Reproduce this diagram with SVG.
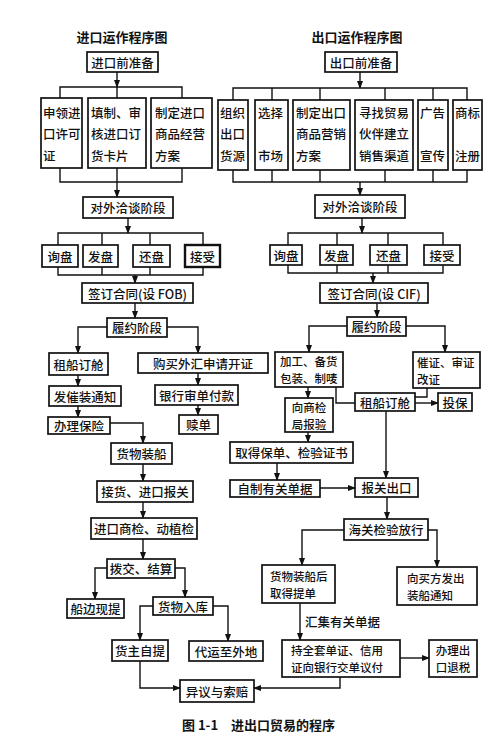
<svg xmlns="http://www.w3.org/2000/svg" width="490" height="743" viewBox="0 0 490 743">
<defs>
<style>
.b{fill:#fff;stroke:#111;stroke-width:1.7}
.t{font-family:"Noto Sans CJK SC","Noto Sans CJK TC",sans-serif;font-size:12.5px;fill:#111;dominant-baseline:central;font-weight:500}
.s{font-size:11.5px}
.c{text-anchor:middle}
.h{font-weight:bold;font-size:13px}
.l{fill:none;stroke:#111;stroke-width:1.4}
.a{marker-end:url(#ah)}
</style>
<marker id="ah" markerUnits="userSpaceOnUse" markerWidth="8" markerHeight="6" refX="7" refY="3" orient="auto"><path d="M0,0 L8,3 L0,6 z" fill="#111"/></marker>
</defs>
<rect width="490" height="743" fill="#fff"/>

<text class="t c h" x="122" y="36">进口运作程序图</text>
<text class="t c h" x="357" y="36">出口运作程序图</text>

<g id="connectors">
<!-- import top -->
<path class="l a" d="M117,72 V87"/>
<path class="l" d="M60,98 V87 H182 V98 M117,87 V98"/>
<path class="l" d="M60,168 V182 H182 V168 M117,168 V182"/>
<path class="l a" d="M117,182 V197"/>
<path class="l a" d="M128,218 V233"/>
<path class="l" d="M58,245 V233 H203 V245 M102,233 V245 M150,233 V245"/>
<path class="l" d="M58,267 V275 H203 V267 M102,267 V275 M150,267 V275"/>
<path class="l a" d="M135,275 V283"/>
<path class="l a" d="M135,303 V318"/>
<path class="l a" d="M107,327 H78 V353"/>
<path class="l a" d="M167,327 H198 V353"/>
<path class="l a" d="M78,375 V386"/>
<path class="l a" d="M78,406 V417"/>
<path class="l a" d="M198,373 V385"/>
<path class="l a" d="M198,405 V415"/>
<path class="l a" d="M110,423 H143 V443"/>
<path class="l a" d="M143,464 V481"/>
<path class="l a" d="M143,502 V518"/>
<path class="l a" d="M143,539 V559"/>
<path class="l a" d="M107,568 H95 V599"/>
<path class="l a" d="M175,568 H185 V597"/>
<path class="l a" d="M153,606 H140 V640"/>
<path class="l a" d="M213,606 H228 V641"/>
<path class="l a" d="M140,661 V688 H180"/>
<!-- export top -->
<path class="l a" d="M360,72 V88"/>
<path class="l" d="M233,100 V88 H467 V100 M272,88 V100 M320,88 V100 M385,88 V100 M433,88 V100"/>
<path class="l" d="M233,170 V182 H467 V170 M272,182 V170 M320,182 V170 M385,182 V170 M433,182 V170"/>
<path class="l a" d="M360,182 V195"/>
<path class="l a" d="M362,218 V233"/>
<path class="l" d="M288,245 V233 H443 V245 M337,233 V245 M388,233 V245"/>
<path class="l" d="M288,265 V273 H443 V265 M337,273 V265 M388,273 V265"/>
<path class="l a" d="M373,273 V283"/>
<path class="l a" d="M377,303 V317"/>
<path class="l a" d="M347,326 H309 V352"/>
<path class="l a" d="M406,326 H445 V352"/>
<path class="l a" d="M308,387 V398"/>
<path class="l" d="M336,387 V403 H355"/>
<path class="l" d="M427,388 V397 H415"/>
<path class="l a" d="M415,403 H438"/>
<path class="l a" d="M386,411 V478"/>
<path class="l a" d="M308,432 V442"/>
<path class="l a" d="M277,463 V480"/>
<path class="l a" d="M320,488 H355"/>
<path class="l a" d="M387,497 V519"/>
<path class="l a" d="M344,530 H302 V565"/>
<path class="l a" d="M428,530 H437 V567"/>
<path class="l a" d="M300,603 V640"/>
<path class="l a" d="M400,658 H429"/>
<path class="l a" d="M340,677 V688 H254"/>
<text class="t" x="305" y="621">汇集有关单据</text>
</g>

<!-- import nodes -->
<g id="imp_prep"><rect class="b" x="87" y="52" width="71" height="20"/><text class="t c" x="122.5" y="62">进口前准备</text></g>
<g id="imp_license"><rect class="b" x="41" y="98" width="41" height="70"/><text class="t" x="43" y="112">申领进</text><text class="t" x="43" y="133">口许可</text><text class="t" x="43" y="155">证</text></g>
<g id="imp_card"><rect class="b" x="88" y="98" width="58" height="70"/><text class="t" x="91" y="112">填制、审</text><text class="t" x="91" y="133">核进口订</text><text class="t" x="91" y="155">货卡片</text></g>
<g id="imp_plan"><rect class="b" x="151" y="98" width="61" height="70"/><text class="t" x="155" y="112">制定进口</text><text class="t" x="155" y="133">商品经营</text><text class="t" x="155" y="155">方案</text></g>
<g id="imp_nego"><rect class="b" x="83" y="197" width="90" height="21"/><text class="t c" x="128" y="207.5">对外洽谈阶段</text></g>
<g id="imp_inq"><rect class="b" x="42" y="245" width="36" height="22"/><text class="t c" x="60" y="256">询盘</text></g>
<g id="imp_offer"><rect class="b" x="83" y="245" width="35" height="22"/><text class="t c" x="100.5" y="256">发盘</text></g>
<g id="imp_counter"><rect class="b" x="133" y="245" width="37" height="22"/><text class="t c" x="151.5" y="256">还盘</text></g>
<g id="imp_accept"><rect class="b" x="185" y="245" width="35" height="22" style="stroke-width:2.4"/><text class="t c" x="202.5" y="256">接受</text></g>
<g id="imp_contract"><rect class="b" x="82" y="283" width="111" height="20"/><text class="t c" x="137.5" y="293">签订合同(设 FOB)</text></g>
<g id="imp_perform"><rect class="b" x="107" y="318" width="60" height="19"/><text class="t c" x="137" y="327.5">履约阶段</text></g>
<g id="imp_ship"><rect class="b" x="49" y="353" width="59" height="22"/><text class="t c" x="78.5" y="364">租船订舱</text></g>
<g id="imp_notice"><rect class="b" x="49" y="386" width="72" height="20"/><text class="t c" x="85" y="396">发催装通知</text></g>
<g id="imp_insure"><rect class="b" x="48" y="417" width="62" height="17"/><text class="t c" x="79" y="425.5">办理保险</text></g>
<g id="imp_fx"><rect class="b" x="138" y="353" width="130" height="20"/><text class="t c" x="203" y="363">购买外汇申请开证</text></g>
<g id="imp_bank"><rect class="b" x="155" y="385" width="83" height="20"/><text class="t c" x="196.5" y="395">银行审单付款</text></g>
<g id="imp_redeem"><rect class="b" x="179" y="415" width="39" height="19"/><text class="t c" x="198.5" y="424.5">赎单</text></g>
<g id="imp_load"><rect class="b" x="111" y="443" width="61" height="21"/><text class="t c" x="141.5" y="453.5">货物装船</text></g>
<g id="imp_customs"><rect class="b" x="97" y="481" width="96" height="21"/><text class="t c" x="145" y="491.5">接货、进口报关</text></g>
<g id="imp_inspect"><rect class="b" x="91" y="518" width="106" height="21"/><text class="t c" x="144" y="528.5">进口商检、动植检</text></g>
<g id="imp_settle"><rect class="b" x="107" y="559" width="68" height="19"/><text class="t c" x="141" y="568.5">拨交、结算</text></g>
<g id="imp_side"><rect class="b" x="67" y="599" width="57" height="19"/><text class="t c" x="95.5" y="608.5">船边现提</text></g>
<g id="imp_store"><rect class="b" x="153" y="597" width="60" height="18"/><text class="t c" x="183" y="606">货物入库</text></g>
<g id="imp_self"><rect class="b" x="112" y="640" width="56" height="21"/><text class="t c" x="140" y="650.5">货主自提</text></g>
<g id="imp_forward"><rect class="b" x="189" y="641" width="74" height="20"/><text class="t c" x="226" y="651">代运至外地</text></g>
<g id="claim"><rect class="b" x="180" y="680" width="74" height="22"/><text class="t c" x="217" y="691">异议与索赔</text></g>

<!-- export nodes -->
<g id="exp_prep"><rect class="b" x="325" y="52" width="72" height="20"/><text class="t c" x="361" y="62">出口前准备</text></g>
<g id="exp_source"><rect class="b" x="218" y="100" width="30" height="70"/><text class="t" x="220" y="112">组织</text><text class="t" x="220" y="133">出口</text><text class="t" x="220" y="155">货源</text></g>
<g id="exp_market"><rect class="b" x="255" y="100" width="33" height="70"/><text class="t" x="258" y="112">选择</text><text class="t" x="258" y="155">市场</text></g>
<g id="exp_plan"><rect class="b" x="293" y="100" width="57" height="70"/><text class="t" x="296" y="112">制定出口</text><text class="t" x="296" y="133">商品营销</text><text class="t" x="296" y="155">方案</text></g>
<g id="exp_partner"><rect class="b" x="355" y="100" width="58" height="70"/><text class="t" x="359" y="112">寻找贸易</text><text class="t" x="359" y="133">伙伴建立</text><text class="t" x="359" y="155">销售渠道</text></g>
<g id="exp_ad"><rect class="b" x="418" y="100" width="30" height="70"/><text class="t" x="420" y="112">广告</text><text class="t" x="420" y="155">宣传</text></g>
<g id="exp_tm"><rect class="b" x="453" y="100" width="29" height="70"/><text class="t" x="455" y="112">商标</text><text class="t" x="455" y="155">注册</text></g>
<g id="exp_nego"><rect class="b" x="315" y="195" width="90" height="23"/><text class="t c" x="360" y="206.5">对外洽谈阶段</text></g>
<g id="exp_inq"><rect class="b" x="270" y="245" width="32" height="20"/><text class="t c" x="286" y="255">询盘</text></g>
<g id="exp_offer"><rect class="b" x="320" y="245" width="33" height="20"/><text class="t c" x="336.5" y="255">发盘</text></g>
<g id="exp_counter"><rect class="b" x="370" y="245" width="37" height="20"/><text class="t c" x="388.5" y="255">还盘</text></g>
<g id="exp_accept"><rect class="b" x="424" y="245" width="36" height="20"/><text class="t c" x="442" y="255">接受</text></g>
<g id="exp_contract"><rect class="b" x="320" y="283" width="108" height="20"/><text class="t c" x="374" y="293">签订合同(设 CIF)</text></g>
<g id="exp_perform"><rect class="b" x="347" y="317" width="59" height="19"/><text class="t c" x="376.5" y="326.5">履约阶段</text></g>
<g id="exp_goods"><rect class="b" x="275" y="352" width="68" height="35"/><text class="t s" x="280" y="361">加工、备货</text><text class="t s" x="280" y="378">包装、制唛</text></g>
<g id="exp_lc"><rect class="b" x="413" y="352" width="67" height="36"/><text class="t s" x="417" y="361.5">催证、审证</text><text class="t s" x="417" y="378.5">改证</text></g>
<g id="exp_apply"><rect class="b" x="285" y="398" width="48" height="34"/><text class="t c s" x="309" y="406.5">向商检</text><text class="t c s" x="309" y="423.5">局报验</text></g>
<g id="exp_ship"><rect class="b" x="355" y="393" width="60" height="18"/><text class="t c" x="385" y="402">租船订舱</text></g>
<g id="exp_insure"><rect class="b" x="438" y="393" width="34" height="18"/><text class="t c" x="455" y="402">投保</text></g>
<g id="exp_cert"><rect class="b" x="230" y="442" width="123" height="21"/><text class="t c" x="291.5" y="452.5">取得保单、检验证书</text></g>
<g id="exp_docs"><rect class="b" x="230" y="480" width="90" height="17"/><text class="t c" x="275" y="488.5">自制有关单据</text></g>
<g id="exp_declare"><rect class="b" x="355" y="478" width="63" height="19"/><text class="t c" x="386.5" y="487.5">报关出口</text></g>
<g id="exp_release"><rect class="b" x="344" y="519" width="84" height="21"/><text class="t c" x="386" y="529.5">海关检验放行</text></g>
<g id="exp_bl"><rect class="b" x="262" y="565" width="73" height="38"/><text class="t s" x="270" y="575.5">货物装船后</text><text class="t s" x="270" y="592.5">取得提单</text></g>
<g id="exp_advice"><rect class="b" x="397" y="567" width="80" height="38"/><text class="t s" x="407" y="577.5">向买方发出</text><text class="t s" x="407" y="594.5">装船通知</text></g>
<g id="exp_nego_pay"><rect class="b" x="282" y="640" width="118" height="37"/><text class="t s" x="291" y="650">持全套单证、信用</text><text class="t s" x="291" y="667">证向银行交单议付</text></g>
<g id="exp_refund"><rect class="b" x="429" y="640" width="48" height="37"/><text class="t c s" x="453" y="650">办理出</text><text class="t c s" x="453" y="667">口退税</text></g>

<text class="t h" x="182" y="724">图 1-1　进出口贸易的程序</text>
</svg>
